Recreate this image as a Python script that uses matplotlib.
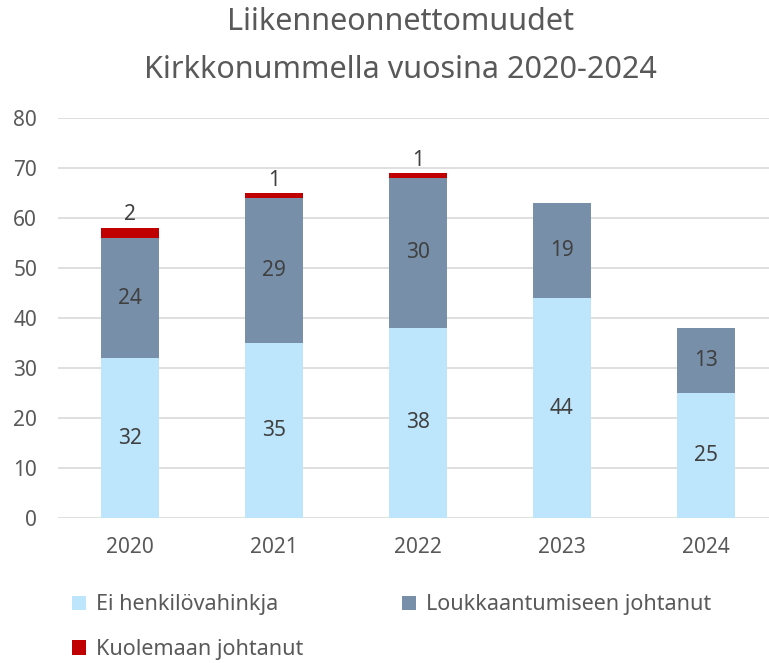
import matplotlib
matplotlib.use("Agg")
import matplotlib.pyplot as plt
from matplotlib.patches import Patch

plt.rcParams['font.family'] = ['Noto Sans', 'DejaVu Sans']

years = ["2020", "2021", "2022", "2023", "2024"]
ei_henkilo = [32, 35, 38, 44, 25]
loukkaantumis = [24, 29, 30, 19, 13]
kuolema = [2, 1, 1, 0, 0]
series_names = ["Ei henkilövahinkja", "Loukkaantumiseen johtanut", "Kuolemaan johtanut"]
colors = ["#BDE5FB", "#778FA8", "#C00000"]
title = "Liikenneonnettomuudet\nKirkkonummella vuosina 2020-2024"

fig = plt.figure(figsize=(7.69, 6.63), dpi=100)
ax = fig.add_axes([58/769, 1-518/663, 720/769, 400/663])

x = list(range(len(years)))
w = 0.4
ax.bar(x, ei_henkilo, w, color=colors[0], zorder=2)
ax.bar(x, loukkaantumis, w, bottom=ei_henkilo, color=colors[1], zorder=2)
bottom3 = [a + b for a, b in zip(ei_henkilo, loukkaantumis)]
ax.bar(x, kuolema, w, bottom=bottom3, color=colors[2], zorder=2)

txt = "#404040"
fs = 15
for i in x:
    ax.text(i, ei_henkilo[i] / 2, str(ei_henkilo[i]), ha='center', va='center', fontsize=fs, color=txt)
    ax.text(i, ei_henkilo[i] + loukkaantumis[i] / 2, str(loukkaantumis[i]), ha='center', va='center', fontsize=fs, color=txt)
    if kuolema[i] > 0:
        ax.text(i, bottom3[i] + kuolema[i] + 0.5, str(kuolema[i]), ha='center', va='bottom', fontsize=fs, color=txt)

ax.set_xlim(-0.5, 4.5)
ax.set_ylim(0, 80)
ax.set_yticks(range(0, 81, 10))
ax.set_xticks(x)
ax.set_xticklabels(years)
ax.yaxis.grid(True, color="#D9D9D9", linewidth=1.2, zorder=0)
ax.set_axisbelow(True)
for s in ax.spines.values():
    s.set_visible(False)
ax.tick_params(axis='both', length=0, labelsize=15, colors="#595959")
ax.tick_params(axis='y', pad=15)
ax.tick_params(axis='x', pad=14)

fig.text(400/769, 1-46/663, title, ha='center', va='center', fontsize=22, color="#595959", linespacing=1.75)

handles = [Patch(facecolor=c) for c in colors]
order = [0, 2, 1]
fig.legend([handles[i] for i in order], [series_names[i] for i in order], loc='upper left',
           bbox_to_anchor=(53/769, 1-575/663), ncol=2,
           frameon=False, fontsize=15.5, labelcolor="#595959",
           handlelength=0.65, handleheight=0.65, handletextpad=0.45, columnspacing=4.6, labelspacing=1.1)

fig.savefig("out.png", dpi=100)
